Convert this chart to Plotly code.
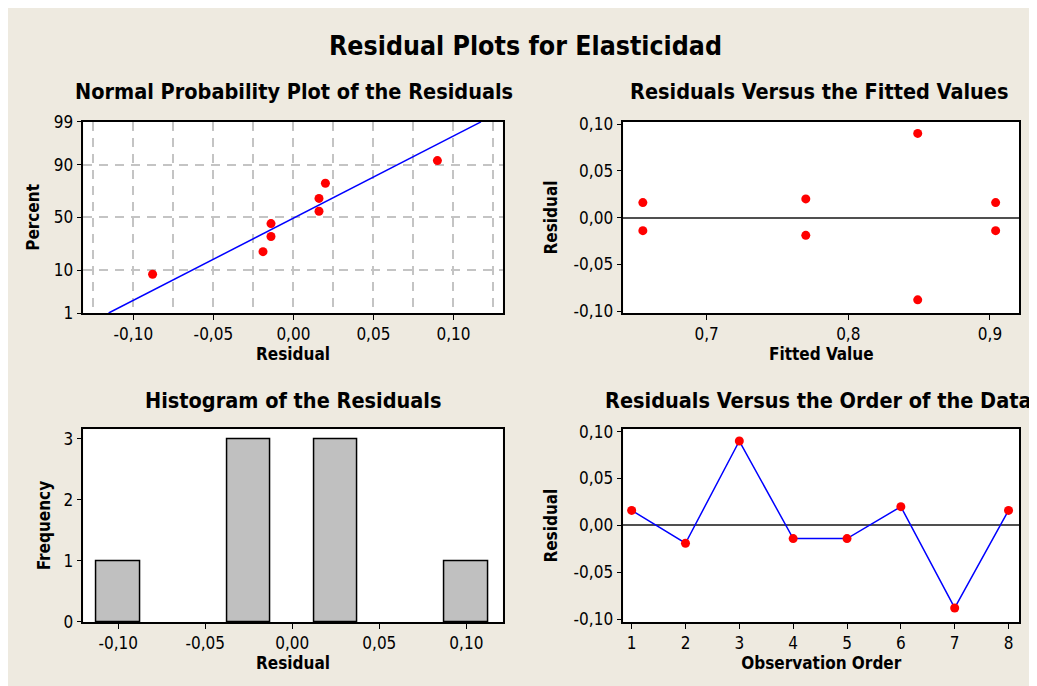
import plotly.graph_objects as go
from statistics import NormalDist, mean, stdev

# ---------------- data ----------------
observation_order = [1, 2, 3, 4, 5, 6, 7, 8]
residuals = [0.016, -0.019, 0.090, -0.014, -0.014, 0.020, -0.088, 0.016]
fitted_values = [0.655, 0.770, 0.849, 0.655, 0.904, 0.770, 0.849, 0.904]

prob_tick_percents = [1, 10, 50, 90, 99]
prob_tick_labels = ["1", "10", "50", "90", "99"]
resid_tick_vals = [-0.10, -0.05, 0.0, 0.05, 0.10]
resid_tick_labels = ["-0,10", "-0,05", "0,00", "0,05", "0,10"]
fitted_tick_vals = [0.7, 0.8, 0.9]
fitted_tick_labels = ["0,7", "0,8", "0,9"]
freq_tick_vals = [0, 1, 2, 3]
order_tick_vals = observation_order

main_title = "Residual Plots for Elasticidad"
panel_titles = [
    "Normal Probability Plot of the Residuals",
    "Residuals Versus the Fitted Values",
    "Histogram of the Residuals",
    "Residuals Versus the Order of the Data",
]

# ---------------- derived ----------------
nd = NormalDist()
n = len(residuals)
sorted_res = sorted(residuals)
ranks_z = [nd.inv_cdf((i + 1 - 0.3) / (n + 0.4)) for i in range(n)]
mu, sd = mean(residuals), stdev(residuals)
z_lo, z_hi = nd.inv_cdf(0.01), nd.inv_cdf(0.99)
line_z = [z_lo, z_hi]
line_x = [mu + sd * z for z in line_z]
prob_tick_z = [nd.inv_cdf(p / 100) for p in prob_tick_percents]

FONT = "DejaVu Sans Condensed, DejaVu Sans, sans-serif"
BG = "#EEEAE0"
RED = "#FF0000"
BLUE = "#0000FF"
W, H = 1027, 678
OFF = 8  # page offset of the figure


def px(X):
    return (X - OFF) / W


def py(Y):
    return 1 - (Y - OFF) / H


fig = go.Figure()

# Normal probability plot
fig.add_trace(go.Scatter(x=line_x, y=line_z, mode="lines",
                         line=dict(color=BLUE, width=1.5), xaxis="x", yaxis="y", showlegend=False))
fig.add_trace(go.Scatter(x=sorted_res, y=ranks_z, mode="markers",
                         marker=dict(color=RED, size=9), xaxis="x", yaxis="y", showlegend=False))
# Versus fits
fig.add_trace(go.Scatter(x=fitted_values, y=residuals, mode="markers",
                         marker=dict(color=RED, size=9), xaxis="x2", yaxis="y2", showlegend=False))
# Histogram
fig.add_trace(go.Histogram(x=residuals, xbins=dict(start=-0.1125, end=0.1125, size=0.025),
                           marker=dict(color="#C0C0C0", line=dict(color="black", width=1.5)),
                           xaxis="x3", yaxis="y3", showlegend=False))
# Versus order
fig.add_trace(go.Scatter(x=observation_order, y=residuals, mode="lines+markers",
                         line=dict(color=BLUE, width=1.5),
                         marker=dict(color=RED, size=9), xaxis="x4", yaxis="y4", showlegend=False))

tickfont = dict(family=FONT, size=17, color="black")
titlefont = dict(family=FONT, size=17, color="black", weight="bold")
common = dict(showline=True, mirror=True, linecolor="black", linewidth=1.5,
              ticks="outside", ticklen=5, tickcolor="black", tickwidth=1,
              tickfont=tickfont, zeroline=False, showgrid=False)

dx_left = [px(83.3), px(502.7)]
dx_right = [px(623.3), px(1019.3)]
dy_top = [py(312), py(115)]
dy_bot = [py(630.3), py(431.7)]
grid_dash = "9px,7px"


def c(*drop):
    return {k: v for k, v in common.items() if k not in drop}


fig.update_layout(
    width=W, height=H,
    margin=dict(l=0, r=0, t=0, b=0),
    paper_bgcolor=BG, plot_bgcolor="white",
    font=dict(family=FONT, color="black"),
    showlegend=False,
    bargap=0,
    xaxis=dict(domain=dx_left, anchor="y", range=[-0.1313, 0.1308],
               tickvals=resid_tick_vals, ticktext=resid_tick_labels,
               showgrid=True, gridcolor="#C4C4C4", gridwidth=1.5, griddash=grid_dash,
               minor=dict(dtick=0.025, tick0=0, showgrid=True, gridcolor="#C4C4C4",
                          gridwidth=1.5, griddash=grid_dash, ticks=""),
               title=dict(text="Residual", font=titlefont, standoff=0), **c("showgrid")),
    yaxis=dict(domain=dy_top, anchor="x", range=[z_lo, z_hi],
               tickvals=prob_tick_z, ticktext=prob_tick_labels,
               showgrid=True, gridcolor="#C4C4C4", gridwidth=1.5, griddash=grid_dash,
               title=dict(text="Percent", font=titlefont, standoff=10), **c("showgrid")),
    xaxis2=dict(domain=dx_right, anchor="y2", range=[0.6412, 0.9207],
                tickvals=fitted_tick_vals, ticktext=fitted_tick_labels,
                title=dict(text="Fitted Value", font=titlefont, standoff=0), **common),
    yaxis2=dict(domain=dy_top, anchor="x2", range=[-0.1021, 0.1024],
                tickvals=resid_tick_vals, ticktext=resid_tick_labels,
                title=dict(text="Residual", font=titlefont, standoff=12),
                **c("zeroline"), zeroline=True, zerolinecolor="#505050", zerolinewidth=1.5),
    xaxis3=dict(domain=dx_left, anchor="y3", range=[-0.1201, 0.1209],
                tickvals=resid_tick_vals, ticktext=resid_tick_labels,
                title=dict(text="Residual", font=titlefont, standoff=0),
                **c("linewidth"), linewidth=2),
    yaxis3=dict(domain=dy_bot, anchor="x3", range=[0, 3.16],
                tickvals=freq_tick_vals,
                title=dict(text="Frequency", font=titlefont, standoff=8), **common),
    xaxis4=dict(domain=dx_right, anchor="y4", range=[0.845, 8.2],
                tickvals=order_tick_vals,
                title=dict(text="Observation Order", font=titlefont, standoff=0), **common),
    yaxis4=dict(domain=dy_bot, anchor="x4", range=[-0.1029, 0.1026],
                tickvals=resid_tick_vals, ticktext=resid_tick_labels,
                title=dict(text="Residual", font=titlefont, standoff=12),
                **c("zeroline"), zeroline=True, zerolinecolor="#505050", zerolinewidth=1.5),
)

annots = [
    dict(text=main_title, X=525, Y=36, size=26.5),
    dict(text=panel_titles[0], X=293.5, Y=84, size=21.5),
    dict(text=panel_titles[1], X=819.5, Y=84, size=21.5),
    dict(text=panel_titles[2], X=292.5, Y=402, size=21.5),
    dict(text=panel_titles[3], X=818.5, Y=402, size=21.5),
]
for a in annots:
    fig.add_annotation(text=a["text"], x=px(a["X"]), y=py(a["Y"]), xref="paper", yref="paper",
                       xanchor="center", yanchor="middle", showarrow=False,
                       font=dict(family=FONT, size=a["size"], color="black", weight="bold"))

fig.write_html("out.html")
